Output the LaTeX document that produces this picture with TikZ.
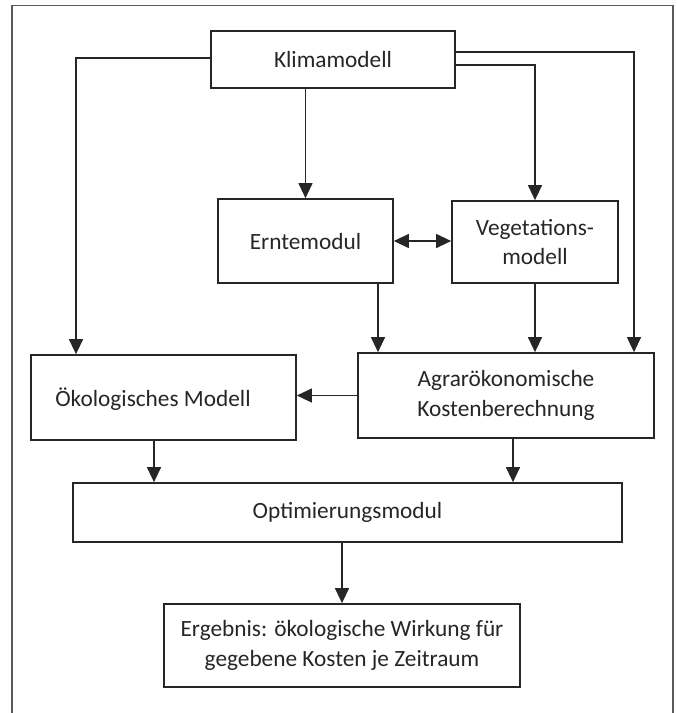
\documentclass[tikz,border=0pt]{standalone}
\usepackage{fontspec}
\setmainfont{Carlito}
\usetikzlibrary{arrows.meta,calc}
\tikzset{
  box/.style={draw=black!85, line width=1.7pt, rectangle, inner sep=0pt, align=center,
    font=\fontsize{23.3}{29.5}\selectfont, text=black!85},
  conn/.style={line width=1.2pt, draw=black!85, -{Triangle[length=15pt,width=14pt]}},
  biconn/.style={line width=1.2pt, draw=black!85, {Triangle[length=15pt,width=14pt]}-{Triangle[length=15pt,width=14pt]}},
  frame/.style={line width=1.4pt, draw=black!65}
}
\begin{document}
\begin{tikzpicture}[x=1pt,y=-1pt]
\useasboundingbox (0,0) rectangle (677,713);
\draw[frame] (12,713) -- (12,5.5) -- (673,5.5) -- (673,713);

\node[box, minimum width=244pt, minimum height=57pt] (klima) at (333,59.5) {Klimamodell};
\node[box, minimum width=175pt, minimum height=84pt] (ernte) at (305.5,241) {Erntemodul};
\node[box, minimum width=166pt, minimum height=82pt] (veg) at (535,242) {Vegetations-\\modell};
\node[box, minimum width=265pt, minimum height=85pt] (oek) at (163.5,397.5) {};
\node[font=\fontsize{23.3}{29.5}\selectfont, text=black!85, inner sep=0pt] (oektext) at (153,399) {Ökologisches Modell};
\node[box, minimum width=296pt, minimum height=85pt] (agrar) at (506,395.5) {Agrarökonomische\\Kostenberechnung};
\node[box, minimum width=549pt, minimum height=59pt] (optim) at (347.5,512.5) {Optimierungsmodul};
\node[box, minimum width=356pt, minimum height=83pt] (erg) at (342,645.5) {Ergebnis: ökologische Wirkung für\\gegebene Kosten je Zeitraum};

\coordinate (xl) at (76,0);
\coordinate (xr) at (634,0);
\coordinate (xe) at (378,0);
\coordinate (xo) at (154,0);
\coordinate (xa) at (513,0);
\coordinate (yr1) at (0,52);
\coordinate (yr2) at (0,65);

\draw[conn] (klima.south -| ernte.north) -- (ernte.north);
\draw[conn] (klima.west |- 0,58) -| (xl |- oek.north);
\draw[conn] (klima.east |- yr1) -| (xr |- agrar.north);
\draw[conn] (klima.east |- yr2) -| (veg.north);
\draw[biconn] (ernte.east) -- (ernte.east -| veg.west);
\draw[conn] (ernte.south -| xe) -- (agrar.north -| xe);
\draw[conn] (veg.south) -- (veg.south |- agrar.north);
\draw[conn] (agrar.west) -- (agrar.west -| oek.east);
\draw[conn] (oek.south -| xo) -- (optim.north -| xo);
\draw[conn] (agrar.south -| xa) -- (optim.north -| xa);
\draw[conn] (optim.south -| erg.north) -- (erg.north);
\end{tikzpicture}
\end{document}
